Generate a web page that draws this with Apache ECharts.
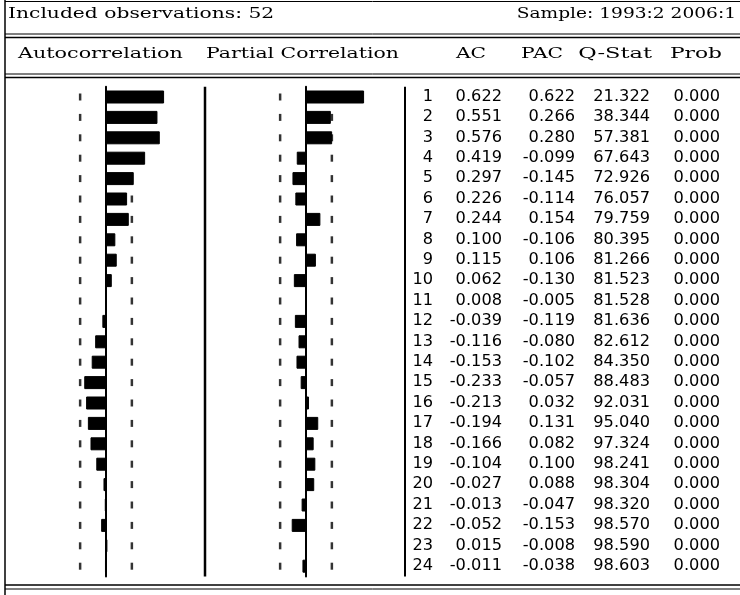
<!DOCTYPE html>
<html>
<head>
<meta charset="utf-8">
<script src="https://cdn.jsdelivr.net/npm/echarts@6/dist/echarts.min.js"></script>
<style>html,body{margin:0;padding:0;background:#fff}#c{width:740px;height:595px}</style>
</head>
<body>
<div id="c"></div>
<script>
const lags = ['1','2','3','4','5','6','7','8','9','10','11','12','13','14','15','16','17','18','19','20','21','22','23','24'];
const acValues = [0.622,0.551,0.576,0.419,0.297,0.226,0.244,0.100,0.115,0.062,0.008,-0.039,-0.116,-0.153,-0.233,-0.213,-0.194,-0.166,-0.104,-0.027,-0.013,-0.052,0.015,-0.011];
const pacValues = [0.622,0.266,0.280,-0.099,-0.145,-0.114,0.154,-0.106,0.106,-0.130,-0.005,-0.119,-0.080,-0.102,-0.057,0.032,0.131,0.082,0.100,0.088,-0.047,-0.153,-0.008,-0.038];
const qStat = [21.322,38.344,57.381,67.643,72.926,76.057,79.759,80.395,81.266,81.523,81.528,81.636,82.612,84.350,88.483,92.031,95.040,97.324,98.241,98.304,98.320,98.570,98.590,98.603];
const probValues = [0,0,0,0,0,0,0,0,0,0,0,0,0,0,0,0,0,0,0,0,0,0,0,0];
const confBound = 0.277;
const headerText = 'Included observations: 52';
const sampleText = 'Sample: 1993:2 2006:1';
const colHeaders = ['Autocorrelation','Partial Correlation','AC','PAC','Q-Stat','Prob'];

const chart = echarts.init(document.getElementById('c'), null, {renderer:'canvas'});
const TOP = 86.8, H = 489.6;
const serif = '15px "DejaVu Serif"';
const sans = '15px "DejaVu Sans"';
const colRight = [433, 502, 575, 650, 720];

function yAxisCfg(idx, showLine){
  return {type:'category', gridIndex:idx, data:lags, inverse:true,
    axisLine:{show:showLine, onZero:true, lineStyle:{color:'#000', width:2}},
    axisTick:{show:false}, axisLabel:{show:false}, splitLine:{show:false}};
}
function xAxisCfg(idx, mn, mx){
  return {type:'value', gridIndex:idx, min:mn, max:mx, show:false};
}
function boundSeries(ai){
  const d = [];
  lags.forEach(l => { d.push([confBound, l]); d.push([-confBound, l]); });
  return {type:'scatter', xAxisIndex:ai, yAxisIndex:ai, data:d, symbol:'rect', symbolSize:[2.5,7],
    itemStyle:{color:'#000'}, silent:true, z:3};
}
function line(x1,y1,x2,y2,w){
  return {type:'line', shape:{x1,y1,x2,y2}, style:{stroke:'#000', lineWidth:w||1}, silent:true};
}
function htext(t, x, y, align, sx){
  return {type:'text', x, y, scaleX:sx, style:{text:t, font:serif, fill:'#000', align:align, verticalAlign:'middle'}, silent:true};
}

const option = {
  animation:false,
  backgroundColor:'#fff',
  grid:[
    {left:7, top:TOP, width:198, height:H},
    {left:207, top:TOP, width:198, height:H},
    {left:405, top:TOP, width:335, height:H}
  ],
  xAxis:[xAxisCfg(0,-1.06,1.06), xAxisCfg(1,-1.06,1.06), xAxisCfg(2,0,1)],
  yAxis:[yAxisCfg(0,true), yAxisCfg(1,true), yAxisCfg(2,false)],
  series:[
    {type:'bar', xAxisIndex:0, yAxisIndex:0, data:acValues, barWidth:13,
      itemStyle:{color:'#000', borderColor:'#000', borderWidth:1}, z:2},
    {type:'bar', xAxisIndex:1, yAxisIndex:1, data:pacValues, barWidth:13,
      itemStyle:{color:'#000', borderColor:'#000', borderWidth:1}, z:2},
    boundSeries(0), boundSeries(1),
    {type:'custom', xAxisIndex:2, yAxisIndex:2, data:lags.map((l,i)=>[0,i]),
      renderItem:function(params, api){
        const i = params.dataIndex;
        const y = api.coord([0, api.value(1)])[1];
        const vals = [lags[i], acValues[i].toFixed(3), pacValues[i].toFixed(3), qStat[i].toFixed(3), probValues[i].toFixed(3)];
        return {type:'group', children: vals.map((v,k)=>({
          type:'text', x:colRight[k], y:y, scaleX:1.08,
          style:{text:v, font:sans, fill:'#000', align:'right', verticalAlign:'middle'}
        }))};
      }}
  ],
  graphic:[
    line(5,0,5,595,1.5),
    line(5,1.5,740,1.5,1),
    line(5,34,740,34,1),
    line(5,37.5,740,37.5,1.5),
    line(5,74,740,74,1),
    line(5,77.5,740,77.5,1.5),
    line(5,585,740,585,1.5),
    line(5,589,740,589,1),
    line(205,TOP,205,TOP+H,2.5),
    line(405,TOP,405,TOP+H,2),
    htext(headerText, 8, 14, 'left', 1.35),
    htext(sampleText, 736, 14, 'right', 1.24),
    htext(colHeaders[0], 18, 54, 'left', 1.38),
    htext(colHeaders[1], 206, 54, 'left', 1.36),
    htext(colHeaders[2], 486, 54, 'right', 1.35),
    htext(colHeaders[3], 563, 54, 'right', 1.35),
    htext(colHeaders[4], 652, 54, 'right', 1.5),
    htext(colHeaders[5], 722, 54, 'right', 1.45)
  ]
};
chart.setOption(option);
</script>
</body>
</html>
